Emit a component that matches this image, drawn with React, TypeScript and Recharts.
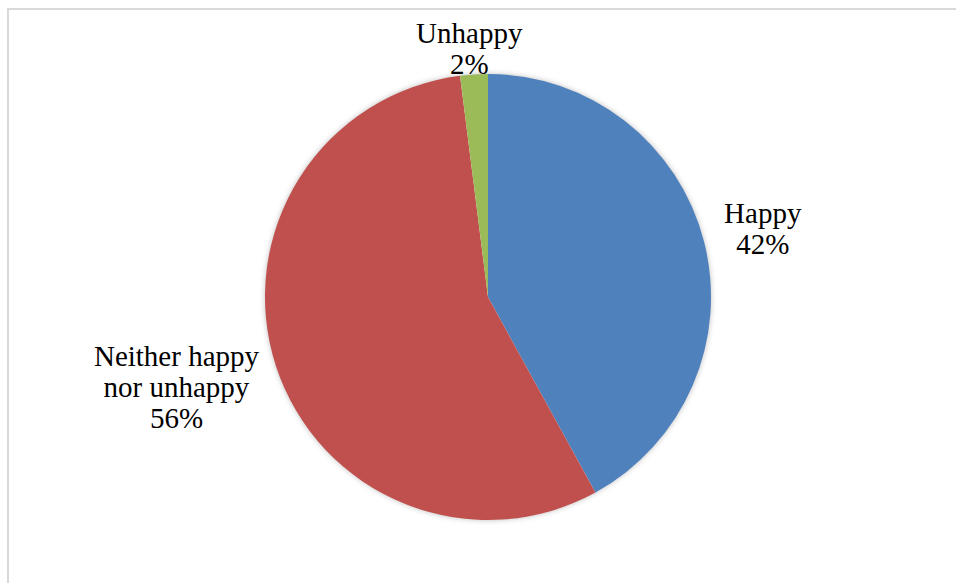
import { PieChart, Pie, Cell } from "recharts";

const categories = ["Happy", "Neither happy nor unhappy", "Unhappy"];
const values = [42, 56, 2];
const labelLines = [["Happy"], ["Neither happy", "nor unhappy"], ["Unhappy"]];
const colors = ["#4F81BD", "#C0504D", "#9BBB59"];

const data = categories.map((name, i) => ({ name, value: values[i] }));
// single full slice drawn underneath to carry the soft drop shadow
const shadowData = [{ name: "all", value: values.reduce((a, b) => a + b, 0) }];

const FONT_SIZE = 29;
const LINE_H = 31;
const FONT = '"Liberation Serif", "Times New Roman", serif';
const RAD = Math.PI / 180;

let ctx: CanvasRenderingContext2D | null = null;
function textWidth(s: string) {
  if (!ctx) {
    ctx = document.createElement("canvas").getContext("2d");
    if (ctx) ctx.font = `${FONT_SIZE}px ${FONT}`;
  }
  return ctx ? ctx.measureText(s).width : s.length * FONT_SIZE * 0.5;
}

function renderLabel(props: any) {
  const { cx, cy, midAngle, outerRadius, index, value } = props;
  const lines = [...labelLines[index], `${value}%`];
  const w = Math.max(...lines.map(textWidth));
  const h = lines.length * LINE_H;
  const cos = Math.cos(-midAngle * RAD);
  const sin = Math.sin(-midAngle * RAD);
  const r = outerRadius + 22;
  const bx = cx + r * cos + (cos * w) / 2;
  let by = cy + r * sin + (sin * h) / 2;
  // keep the label box inside the plot area
  by = Math.max(by, 17 + h / 2);
  const top = by - h / 2;
  return (
    <text
      key={`lbl-${index}`}
      x={bx}
      y={top}
      textAnchor="middle"
      fill="#000"
      style={{ fontFamily: FONT, fontSize: FONT_SIZE }}
    >
      {lines.map((l, i) => (
        <tspan key={i} x={bx} y={top + LINE_H * (i + 0.5)} dominantBaseline="central">
          {l}
        </tspan>
      ))}
    </text>
  );
}

export default function App() {
  return (
    <div style={{ position: "fixed", left: 0, top: 0, width: 956, height: 583, background: "#fff", overflow: "hidden" }}>
      <style>{`.pie-shadow path { filter: drop-shadow(0 0 3px rgba(0,0,0,0.35)); }`}</style>
      <div
        style={{
          position: "absolute",
          left: 7,
          top: 8,
          width: 1000,
          height: 1000,
          border: "2px solid #d9d9d9",
        }}
      />
      <div style={{ position: "absolute", left: 0, top: 0 }}>
        <PieChart width={956} height={583} margin={{ top: 0, right: 0, bottom: 0, left: 0 }}>
          <Pie
            className="pie-shadow"
            data={shadowData}
            dataKey="value"
            cx={488}
            cy={297}
            outerRadius={222}
            startAngle={90}
            endAngle={-270}
            stroke="none"
            fill="#fff"
            label={false}
            labelLine={false}
            isAnimationActive={false}
          />
          <Pie
            data={data}
            dataKey="value"
            nameKey="name"
            cx={488}
            cy={297}
            outerRadius={223}
            startAngle={90}
            endAngle={-270}
            stroke="none"
            label={renderLabel}
            labelLine={false}
            isAnimationActive={false}
          >
            {data.map((entry, index) => (
              <Cell key={entry.name} fill={colors[index]} />
            ))}
          </Pie>
        </PieChart>
      </div>
    </div>
  );
}
